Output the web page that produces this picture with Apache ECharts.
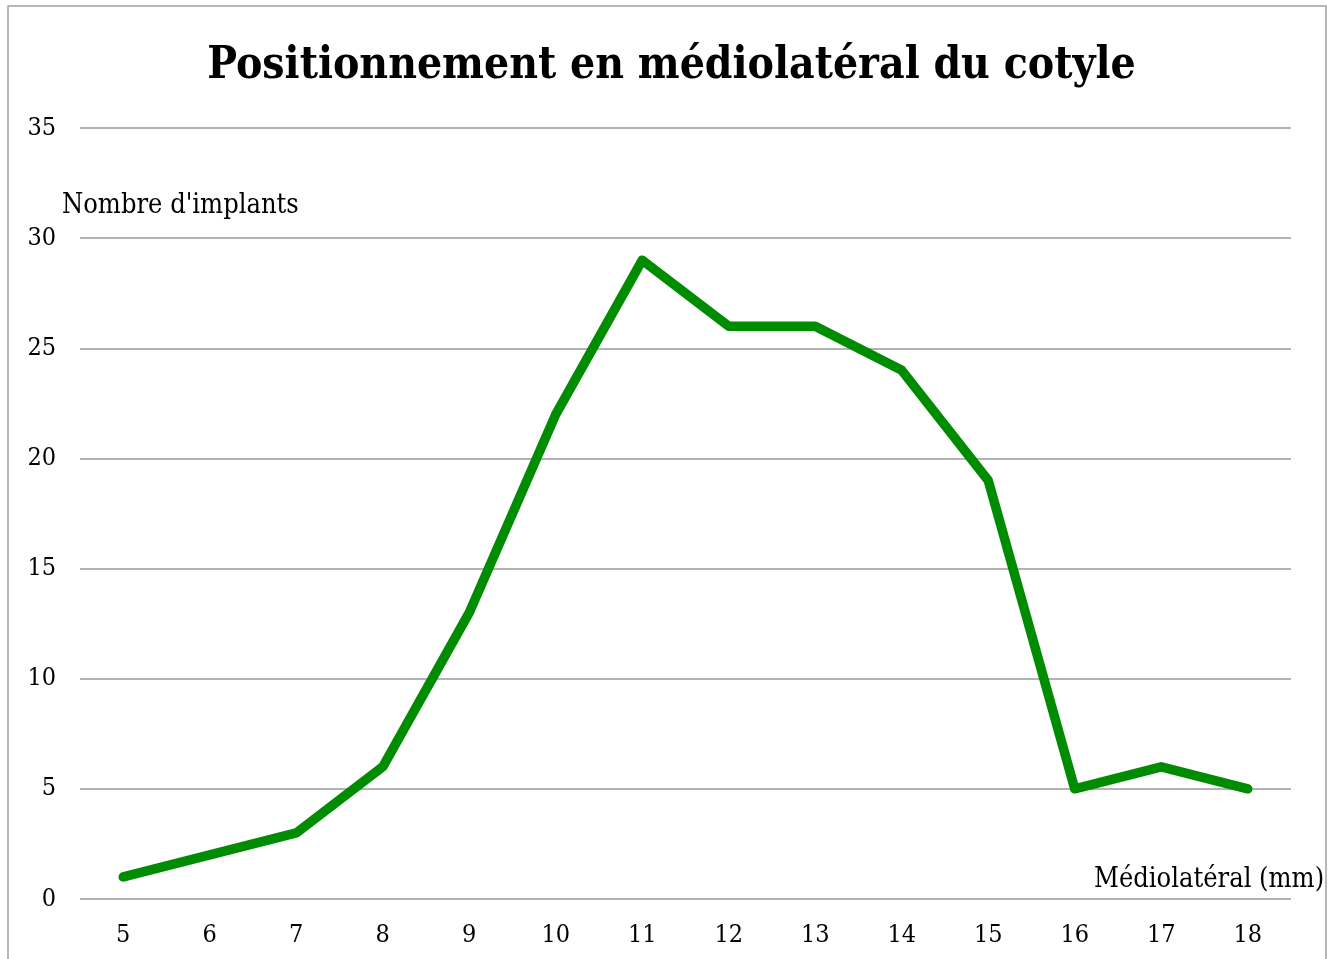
<!DOCTYPE html>
<html>
<head>
<meta charset="utf-8">
<script src="https://cdn.jsdelivr.net/npm/echarts@6/dist/echarts.min.js"></script>
<style>
  html, body { margin: 0; padding: 0; background: #fff; }
  #chart { width: 1343px; height: 959px; }
</style>
</head>
<body>
<div id="chart"></div>
<script>
// Mediolateral cup position (mm) and number of implants
const categories = ['5', '6', '7', '8', '9', '10', '11', '12', '13', '14', '15', '16', '17', '18'];
const implants = [1, 2, 3, 6, 13, 22, 29, 26, 26, 24, 19, 5, 6, 5];
const yTicks = { min: 0, max: 35, interval: 5 };

const FONT = '"DejaVu Serif Condensed", "DejaVu Serif", serif';

const chart = echarts.init(document.getElementById('chart'), null, { renderer: 'canvas' });
chart.setOption({
  backgroundColor: '#ffffff',
  animation: false,
  title: {
    text: 'Positionnement en médiolatéral du cotyle',
    left: 'center',
    top: 40,
    textStyle: { fontFamily: FONT, fontWeight: 'bold', fontSize: 44, color: '#000' }
  },
  grid: { left: 80, right: 52, top: 128, bottom: 60, containLabel: false },
  xAxis: {
    type: 'category',
    data: categories,
    boundaryGap: true,
    axisLine: { show: false },
    axisTick: { show: false },
    axisLabel: { fontFamily: FONT, fontSize: 25, color: '#000', margin: 24 }
  },
  yAxis: {
    type: 'value',
    min: yTicks.min,
    max: yTicks.max,
    interval: yTicks.interval,
    axisLine: { show: false },
    axisTick: { show: false },
    axisLabel: { fontFamily: FONT, fontSize: 25, color: '#000', margin: 24, padding: [6, 0, 0, 0] },
    splitLine: { lineStyle: { color: '#9a9a9a', width: 1.5 } }
  },
  series: [{
    type: 'line',
    data: implants,
    symbol: 'none',
    lineStyle: { color: '#008c00', width: 9.5, cap: 'round', join: 'round' }
  }],
  graphic: [
    {
      type: 'rect',
      shape: { x: 8, y: 6, width: 1318, height: 970 },
      style: { fill: null, stroke: '#a0a0a0', lineWidth: 1.5 },
      silent: true
    },
    {
      type: 'text',
      left: 62,
      top: 192,
      style: { text: "Nombre d'implants", fontFamily: FONT, fontSize: 27, fill: '#000' }
    },
    {
      type: 'text',
      left: 1094,
      top: 866,
      style: { text: 'Médiolatéral (mm)', fontFamily: FONT, fontSize: 27, fill: '#000' }
    }
  ]
});
</script>
</body>
</html>
